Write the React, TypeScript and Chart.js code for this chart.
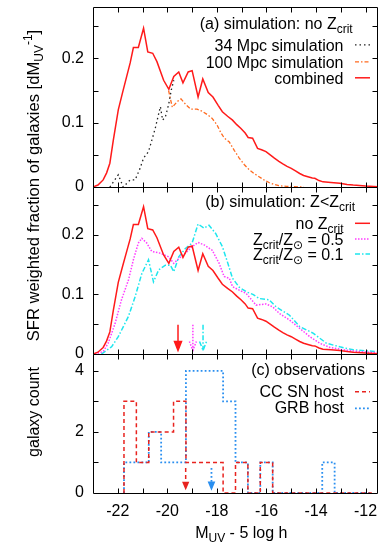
import React, { useEffect, useRef } from "react";
import { Chart, registerables } from "chart.js";

Chart.register(...registerables);

const FAMILY = "'Liberation Sans', Arial, Helvetica, 'DejaVu Sans', sans-serif";

// ---- axes ----
const X_MIN = -23;
const X_MAX = -11.5;
const X_TICKS = [-22, -20, -18, -16, -14, -12];
const SIM_Y_MAX = 0.28;
const SIM_Y_TICKS = [0, 0.1, 0.2];
const OBS_Y_MAX = 4.55;
const OBS_Y_TICKS = [0, 2, 4];

// ---- panel (a) / (b) simulation curves: [M_UV, fraction] ----
const COMBINED: [number, number][] = [
  [-23.0, 0.0], [-22.8, 0.003], [-22.59, 0.011], [-22.45, 0.022], [-22.32, 0.037],
  [-22.18, 0.073], [-21.98, 0.12], [-21.8, 0.148], [-21.64, 0.172], [-21.5, 0.193],
  [-21.37, 0.217], [-21.17, 0.217], [-20.96, 0.247], [-20.79, 0.21], [-20.59, 0.208],
  [-20.42, 0.195], [-20.15, 0.166], [-19.94, 0.152], [-19.74, 0.172], [-19.54, 0.179],
  [-19.37, 0.162], [-19.16, 0.179], [-19.0, 0.181], [-18.76, 0.14], [-18.57, 0.168],
  [-18.35, 0.147], [-18.16, 0.14], [-17.95, 0.127], [-17.78, 0.117], [-17.57, 0.11],
  [-17.37, 0.104], [-17.2, 0.097], [-17.03, 0.091], [-16.86, 0.084], [-16.74, 0.077],
  [-16.56, 0.076], [-16.36, 0.06], [-16.2, 0.058], [-16.02, 0.055], [-15.85, 0.05],
  [-15.68, 0.045], [-15.5, 0.04], [-15.34, 0.036], [-15.17, 0.032], [-15.0, 0.029],
  [-14.83, 0.025], [-14.66, 0.021], [-14.5, 0.018], [-14.33, 0.016], [-14.15, 0.014],
  [-14.05, 0.0135], [-13.88, 0.01], [-13.72, 0.008], [-13.4, 0.007], [-13.04, 0.006],
  [-12.75, 0.004], [-12.5, 0.003], [-12.0, 0.0015], [-11.5, 0.0005],
];

const SIM_34MPC: [number, number][] = [
  [-22.32, 0.0], [-21.98, 0.019], [-21.78, 0.0], [-21.5, 0.011], [-21.3, 0.011],
  [-21.1, 0.029], [-20.96, 0.045], [-20.76, 0.055], [-20.49, 0.091], [-20.38, 0.109],
  [-20.28, 0.125], [-20.19, 0.104], [-20.08, 0.109], [-19.95, 0.128], [-19.84, 0.151],
  [-19.74, 0.166],
];

const SIM_100MPC: [number, number][] = [
  [-19.95, 0.15], [-19.8, 0.124], [-19.6, 0.133], [-19.45, 0.137], [-19.25, 0.128],
  [-19.05, 0.121], [-18.8, 0.121], [-18.6, 0.118], [-18.4, 0.113], [-18.2, 0.107],
  [-18.0, 0.097], [-17.85, 0.085], [-17.7, 0.076], [-17.5, 0.07], [-17.3, 0.057],
  [-17.1, 0.045], [-16.9, 0.035], [-16.7, 0.027], [-16.5, 0.021], [-16.3, 0.016],
  [-16.1, 0.011], [-15.9, 0.007], [-15.7, 0.004], [-15.5, 0.002], [-15.2, 0.001],
  [-14.5, 0.0],
];

const ZCRIT_05: [number, number][] = [
  [-22.93, 0.0], [-22.59, 0.004], [-22.39, 0.018], [-22.11, 0.051], [-21.85, 0.091],
  [-21.57, 0.124], [-21.37, 0.158], [-21.17, 0.186], [-21.03, 0.194], [-20.83, 0.186],
  [-20.63, 0.172], [-20.28, 0.169], [-19.95, 0.163], [-19.74, 0.152], [-19.54, 0.16],
  [-19.27, 0.169], [-19.0, 0.18], [-18.76, 0.187], [-18.52, 0.183], [-18.19, 0.174],
  [-17.91, 0.152], [-17.71, 0.13], [-17.5, 0.127], [-17.37, 0.113], [-17.1, 0.107],
  [-16.83, 0.102], [-16.42, 0.082], [-16.02, 0.084], [-15.75, 0.079], [-15.48, 0.068],
  [-15.07, 0.057], [-14.66, 0.043], [-14.25, 0.029], [-13.85, 0.018], [-13.44, 0.011],
  [-12.9, 0.007], [-12.22, 0.004], [-11.5, 0.002],
];

const ZCRIT_01: [number, number][] = [
  [-22.66, 0.0], [-22.25, 0.012], [-21.98, 0.029], [-21.57, 0.063], [-21.3, 0.096],
  [-21.03, 0.135], [-20.76, 0.158], [-20.56, 0.121], [-20.35, 0.141], [-20.08, 0.149],
  [-19.88, 0.149], [-19.74, 0.138], [-19.54, 0.163], [-19.27, 0.177], [-19.0, 0.186],
  [-18.76, 0.218], [-18.52, 0.211], [-18.32, 0.216], [-18.05, 0.202], [-17.78, 0.18],
  [-17.58, 0.155], [-17.37, 0.127], [-17.1, 0.112], [-16.8, 0.104], [-16.55, 0.1],
  [-16.29, 0.093], [-15.9, 0.091], [-15.61, 0.079], [-15.07, 0.065], [-14.66, 0.046],
  [-14.12, 0.035], [-13.58, 0.018], [-13.04, 0.012], [-12.5, 0.007], [-11.5, 0.004],
];

// median arrows in panel (b): no Zcrit, 0.5, 0.1
const SIM_ARROW_X = [-19.57, -18.97, -18.56];
const SIM_ARROW_FROM = 0.049;
const SIM_ARROW_TO = 0.006;

// ---- panel (c) observations: histogram ----
const HIST_BIN_CENTERS = [
  -21.5, -21, -20.5, -20, -19.5, -19, -18.5, -18, -17.5, -17,
  -16.5, -16, -15.5, -15, -14.5, -14, -13.5, -13, -12.5, -12,
];
const HIST_BIN_WIDTH = 0.5;
const CCSN_COUNTS = [0, 3, 1, 2, 2, 3, 1, 1, 1, 0, 1, 0, 1, 0, 0, 0, 0, 0, 0, 0];
const GRB_COUNTS = [0, 1, 1, 2, 1, 1, 4, 4, 4, 3, 1, 0, 1, 0, 0, 0, 0, 1, 0, 0];
const OBS_ARROW_X = [-19.26, -18.22];
const OBS_ARROW_FROM = 0.82;
const OBS_ARROW_TO = 0.15;

const RED = "#ff1a1a";
const ORANGE = "#ff6a1f";
const BLACK_DOT = "#222222";
const MAGENTA = "#ff3cff";
const CYAN = "#1ee6ee";
const HIST_RED = "#e8231f";
const HIST_BLUE = "#2a8ff0";

const pts = (arr: [number, number][]) => arr.map(([x, y]) => ({ x, y }));
const steps = (counts: number[]) => {
  const out = counts.map((c, i) => ({ x: HIST_BIN_CENTERS[i] - HIST_BIN_WIDTH / 2, y: c }));
  const last = HIST_BIN_CENTERS.length - 1;
  out.push({ x: HIST_BIN_CENTERS[last] + HIST_BIN_WIDTH / 2, y: counts[last] });
  return out;
};

type Seg = [string, number?]; // 0 normal, 1 subscript, 2 superscript

function drawRich(ctx: CanvasRenderingContext2D, segs: Seg[], x: number, y: number, align: string, size = 16) {
  const fontFor = (k?: number) => (k ? `${Math.round(size * 0.75)}px ${FAMILY}` : `${size}px ${FAMILY}`);
  let w = 0;
  for (const [t, k] of segs) {
    ctx.font = fontFor(k);
    w += ctx.measureText(t).width;
  }
  let cx = align === "right" ? x - w : align === "center" ? x - w / 2 : x;
  ctx.textAlign = "left";
  ctx.textBaseline = "alphabetic";
  for (const [t, k] of segs) {
    ctx.font = fontFor(k);
    const dy = k === 1 ? 4 : k === 2 ? -7 : 0;
    ctx.fillText(t, cx, y + dy);
    cx += ctx.measureText(t).width;
  }
}

function sample(ctx: CanvasRenderingContext2D, ds: any, x0: number, x1: number, y: number) {
  ctx.save();
  ctx.strokeStyle = ds.borderColor;
  ctx.lineWidth = ds.borderWidth;
  ctx.setLineDash(ds.borderDash || []);
  ctx.beginPath();
  ctx.moveTo(x0, y);
  ctx.lineTo(x1, y);
  ctx.stroke();
  ctx.restore();
}

function arrow(ctx: CanvasRenderingContext2D, ds: any, px: number, y0: number, y1: number, head: number, half: number, filled: boolean) {
  ctx.save();
  ctx.strokeStyle = ds.borderColor;
  ctx.fillStyle = ds.borderColor;
  ctx.lineWidth = ds.borderWidth;
  ctx.setLineDash(ds.borderDash || []);
  ctx.beginPath();
  ctx.moveTo(px, y0);
  ctx.lineTo(px, y1 - (filled ? head * 0.6 : 0));
  ctx.stroke();
  ctx.beginPath();
  ctx.moveTo(px - half, y1 - head);
  ctx.lineTo(px, y1);
  ctx.lineTo(px + half, y1 - head);
  if (filled) {
    ctx.closePath();
    ctx.setLineDash([]);
    ctx.fill();
  }
  ctx.stroke();
  ctx.restore();
}

const TICK = 5;

const decor = {
  id: "decor",
  afterDatasetsDraw(chart: any) {
    const ctx: CanvasRenderingContext2D = chart.ctx;
    const xs = chart.scales.x;
    const yA = chart.scales.yA;
    const yB = chart.scales.yB;
    const yC = chart.scales.yC;
    const ds = chart.data.datasets;
    ctx.save();

    // arrows panel (b)
    const simArrowDs = [ds[3], ds[4], ds[5]];
    SIM_ARROW_X.forEach((v, i) => {
      arrow(ctx, simArrowDs[i], xs.getPixelForValue(v), yB.getPixelForValue(SIM_ARROW_FROM), yB.getPixelForValue(SIM_ARROW_TO), 9, 3.5, i === 0);
    });
    // arrows panel (c)
    const obsArrowDs = [ds[6], ds[7]];
    OBS_ARROW_X.forEach((v, i) => {
      arrow(ctx, obsArrowDs[i], xs.getPixelForValue(v), yC.getPixelForValue(OBS_ARROW_FROM), yC.getPixelForValue(OBS_ARROW_TO), 6, 2.5, true);
    });

    // frames + inward ticks
    ctx.strokeStyle = "#000";
    ctx.lineWidth = 1;
    ctx.setLineDash([]);
    const L = Math.round(xs.left) + 0.5;
    const R = Math.round(xs.right) - 0.5;
    const panels = [
      { s: yA, step: 0.05 },
      { s: yB, step: 0.05 },
      { s: yC, step: 1 },
    ];
    for (const p of panels) {
      const T = Math.round(p.s.top) + 0.5;
      const B = Math.round(p.s.bottom) + 0.5;
      ctx.beginPath();
      ctx.rect(L, T, R - L, B - T);
      for (let v = Math.ceil(X_MIN) + 1; v < X_MAX; v += 1) {
        const px = Math.round(xs.getPixelForValue(v)) + 0.5;
        ctx.moveTo(px, B);
        ctx.lineTo(px, B - TICK);
        ctx.moveTo(px, T);
        ctx.lineTo(px, T + TICK);
      }
      for (let k = 1; k * p.step < p.s.max - 1e-9; k++) {
        const py = Math.round(p.s.getPixelForValue(k * p.step)) + 0.5;
        ctx.moveTo(L, py);
        ctx.lineTo(L + TICK, py);
        ctx.moveTo(R, py);
        ctx.lineTo(R - TICK, py);
      }
      ctx.stroke();
    }

    // legends
    ctx.fillStyle = "#000";
    const sx0 = 355;
    const sx1 = 370;
    const tr = 343.5;
    const aT = yA.top;
    drawRich(ctx, [["(a) simulation: no Z"], ["crit", 1]], 352.7, aT + 22.3, "right");
    const aRows: Seg[][] = [[["34 Mpc simulation"]], [["100 Mpc simulation"]], [["combined"]]];
    const aDs = [ds[1], ds[2], ds[0]];
    [43.8, 60.8, 76.8].forEach((dy, i) => {
      ctx.fillStyle = "#000";
      drawRich(ctx, aRows[i], tr, aT + dy, "right");
      sample(ctx, aDs[i], sx0, sx1, aT + dy - 6);
    });

    const bT = yB.top;
    ctx.fillStyle = "#000";
    drawRich(ctx, [["(b) simulation: Z<Z"], ["crit", 1]], 355, bT + 20.3, "right");
    const bRows: Seg[][] = [
      [["no Z"], ["crit", 1]],
      [["Z"], ["crit", 1], ["/Z"], ["\u2299", 1], [" = 0.5"]],
      [["Z"], ["crit", 1], ["/Z"], ["\u2299", 1], [" = 0.1"]],
    ];
    const bDs = [ds[3], ds[4], ds[5]];
    [42.3, 58, 73].forEach((dy, i) => {
      ctx.fillStyle = "#000";
      drawRich(ctx, bRows[i], tr, bT + dy, "right");
      sample(ctx, bDs[i], sx0, sx1, bT + dy - 6);
    });

    const cT = yC.top;
    ctx.fillStyle = "#000";
    drawRich(ctx, [["(c) observations"]], 365, cT + 21, "right");
    const cRows: Seg[][] = [[["CC SN host"]], [["GRB host"]]];
    const cDs = [ds[6], ds[7]];
    [42.7, 59.3].forEach((dy, i) => {
      ctx.fillStyle = "#000";
      drawRich(ctx, cRows[i], 344, cT + dy, "right");
      sample(ctx, cDs[i], sx0, sx1, cT + dy - 5);
    });

    // axis titles
    ctx.fillStyle = "#000";
    drawRich(ctx, [["M"], ["UV", 1], [" - 5 log h"]], 241.3, 538.3, "center");
    ctx.save();
    ctx.translate(38.5, 185.5);
    ctx.rotate(-Math.PI / 2);
    drawRich(ctx, [["SFR weighted fraction of galaxies [dM"], ["UV", 1], ["-1", 2], ["]"]], 0, 0, "center", 16.6);
    ctx.restore();
    ctx.save();
    ctx.translate(38.5, 412);
    ctx.rotate(-Math.PI / 2);
    drawRich(ctx, [["galaxy count"]], 0, 0, "center");
    ctx.restore();

    ctx.restore();
  },
};

function yScale(stackWeight: number, max: number, ticks: number[]) {
  return {
    type: "linear",
    position: "left",
    stack: "panels",
    stackWeight,
    offset: false,
    min: 0,
    max,
    grid: { display: false, drawTicks: false, tickLength: 0 },
    border: { display: false },
    afterBuildTicks: (s: any) => {
      s.ticks = ticks.map((v) => ({ value: v }));
    },
    afterFit: (s: any) => {
      s.width = 93;
      s.paddingTop = 0;
      s.paddingBottom = 0;
      s.paddingLeft = 0;
      s.paddingRight = 0;
    },
    ticks: {
      padding: 9,
      color: "#000",
      autoSkip: false,
      font: { family: FAMILY, size: 16 },
      callback: (v: any) => String(v),
    },
  };
}

export default function App() {
  const ref = useRef<HTMLCanvasElement>(null);
  useEffect(() => {
    const chart = new Chart(ref.current as HTMLCanvasElement, {
      type: "line",
      data: {
        datasets: [
          { label: "combined", data: pts(COMBINED), yAxisID: "yA", borderColor: RED, borderWidth: 1.5, borderDash: [] },
          { label: "34 Mpc simulation", data: pts(SIM_34MPC), yAxisID: "yA", borderColor: BLACK_DOT, borderWidth: 1.3, borderDash: [1.5, 3] },
          { label: "100 Mpc simulation", data: pts(SIM_100MPC), yAxisID: "yA", borderColor: ORANGE, borderWidth: 1.3, borderDash: [4, 2, 1.5, 2] },
          { label: "no Zcrit", data: pts(COMBINED), yAxisID: "yB", borderColor: RED, borderWidth: 1.5, borderDash: [] },
          { label: "Zcrit/Zsun = 0.5", data: pts(ZCRIT_05), yAxisID: "yB", borderColor: MAGENTA, borderWidth: 1.5, borderDash: [1.5, 1.5] },
          { label: "Zcrit/Zsun = 0.1", data: pts(ZCRIT_01), yAxisID: "yB", borderColor: CYAN, borderWidth: 1.5, borderDash: [5, 2, 1.5, 2] },
          { label: "CC SN host", data: steps(CCSN_COUNTS), yAxisID: "yC", borderColor: HIST_RED, borderWidth: 1.5, borderDash: [4, 3], stepped: "after" },
          { label: "GRB host", data: steps(GRB_COUNTS), yAxisID: "yC", borderColor: HIST_BLUE, borderWidth: 1.8, borderDash: [1.8, 2.2], stepped: "after" },
        ] as any,
      },
      options: {
        animation: false,
        responsive: false,
        devicePixelRatio: 1,
        layout: { padding: { top: 7, right: 3, left: 0, bottom: 0 } },
        elements: { point: { radius: 0 }, line: { tension: 0, fill: false } },
        plugins: { legend: { display: false }, tooltip: { enabled: false } },
        scales: {
          x: {
            type: "linear",
            position: "bottom",
            min: X_MIN,
            max: X_MAX,
            grid: { display: false, drawTicks: false, tickLength: 0 },
            border: { display: false },
            afterBuildTicks: (s: any) => {
              s.ticks = X_TICKS.map((v) => ({ value: v }));
            },
            afterFit: (s: any) => {
              s.height = 51;
              s.paddingLeft = 0;
              s.paddingRight = 0;
              s.paddingTop = 0;
              s.paddingBottom = 0;
            },
            ticks: {
              padding: 9,
              color: "#000",
              autoSkip: false,
              maxRotation: 0,
              font: { family: FAMILY, size: 16 },
              callback: (v: any) => String(v),
            },
          },
          yC: yScale(139, OBS_Y_MAX, OBS_Y_TICKS),
          yB: yScale(167, SIM_Y_MAX, SIM_Y_TICKS),
          yA: yScale(180, SIM_Y_MAX, SIM_Y_TICKS),
        } as any,
      },
      plugins: [decor],
    } as any);
    return () => chart.destroy();
  }, []);
  return (
    <canvas
      ref={ref}
      width={381}
      height={544}
      style={{ position: "absolute", left: 0, top: 0, width: 381, height: 544, display: "block" }}
    />
  );
}
